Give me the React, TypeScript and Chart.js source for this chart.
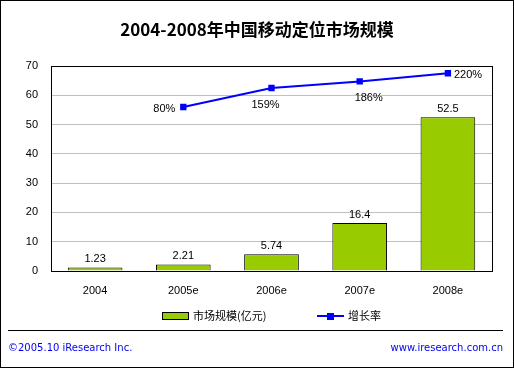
import React, { useEffect, useRef } from "react";
import { Chart, registerables } from "chart.js";

Chart.register(...registerables);

const title = "2004-2008年中国移动定位市场规模";
const categories = ["2004", "2005e", "2006e", "2007e", "2008e"];
const marketSize = [1.23, 2.21, 5.74, 16.4, 52.5];
const marketLabels = ["1.23", "2.21", "5.74", "16.4", "52.5"];
const growthRate: (number | null)[] = [null, 80, 159, 186, 220];
const growthLabels = ["", "80%", "159%", "186%", "220%"];
const seriesNames = ["市场规模(亿元)", "增长率"];
const footerLeft = "©2005.10 iResearch Inc.";
const footerRight = "www.iresearch.com.cn";

const FONT = "'Liberation Sans', 'Noto Sans CJK SC', sans-serif";
const FOOT = "'DejaVu Sans', 'Liberation Sans', sans-serif";
const CJK = "'Noto Sans CJK SC', 'Liberation Sans', sans-serif";
const GREEN = "#99cc00";
const BLUE = "#0000ff";

// placement of growth labels relative to point: [dx, dy, align]
const growthPlacement: [number, number, CanvasTextAlign][] = [
  [0, 0, "center"],
  [-8, 2, "right"],
  [-6, 17, "center"],
  [9, 17, "center"],
  [6, 2, "left"],
];

const decorPlugin = {
  id: "decor",
  afterDraw(chart: any) {
    const ctx = chart.ctx as CanvasRenderingContext2D;
    const ca = chart.chartArea;
    ctx.save();
    // outer border
    ctx.strokeStyle = "#000";
    ctx.lineWidth = 1;
    ctx.strokeRect(0.5, 0.5, 513, 367);
    // plot border
    ctx.strokeRect(Math.round(ca.left) + 0.5, Math.round(ca.top) + 0.5, Math.round(ca.right - ca.left), Math.round(ca.bottom - ca.top));
    // title
    ctx.fillStyle = "#000";
    ctx.font = `bold 17px ${CJK}`;
    ctx.textAlign = "center";
    ctx.textBaseline = "middle";
    ctx.fillText(title, 257, 30);

    // bar labels
    ctx.font = `11px ${FONT}`;
    ctx.textBaseline = "bottom";
    const barMeta = chart.getDatasetMeta(0);
    barMeta.data.forEach((el: any, i: number) => {
      ctx.textAlign = "center";
      ctx.fillText(marketLabels[i], el.x, el.y - 3);
    });
    // line labels
    const lineMeta = chart.getDatasetMeta(1);
    ctx.textBaseline = "middle";
    lineMeta.data.forEach((el: any, i: number) => {
      if (growthRate[i] == null) return;
      const [dx, dy, al] = growthPlacement[i];
      ctx.textAlign = al;
      ctx.fillText(growthLabels[i], el.x + dx, el.y + dy);
    });

    // legend
    const ly = 316;
    ctx.fillStyle = GREEN;
    ctx.fillRect(162, 312, 27, 7);
    ctx.strokeStyle = "#000";
    ctx.strokeRect(162.5, 312.5, 26, 7);
    ctx.fillStyle = "#000";
    ctx.font = `11px ${CJK}`;
    ctx.textAlign = "left";
    ctx.fillText(seriesNames[0], 193, ly);
    ctx.strokeStyle = BLUE;
    ctx.lineWidth = 2;
    ctx.beginPath();
    ctx.moveTo(317, ly);
    ctx.lineTo(344, ly);
    ctx.stroke();
    ctx.fillStyle = BLUE;
    ctx.fillRect(327, ly - 3, 7, 7);
    ctx.fillStyle = "#000";
    ctx.fillText(seriesNames[1], 348, ly);

    // separator
    ctx.strokeStyle = "#000";
    ctx.lineWidth = 1;
    ctx.beginPath();
    ctx.moveTo(8, 330.5);
    ctx.lineTo(503, 330.5);
    ctx.stroke();

    // footer
    ctx.fillStyle = "#0000ee";
    ctx.font = `10px ${FOOT}`;
    ctx.textAlign = "left";
    ctx.fillText(footerLeft, 8, 348);
    ctx.textAlign = "right";
    ctx.fillText(footerRight, 503, 348);
    ctx.restore();
  },
};

export default function App() {
  const ref = useRef<HTMLCanvasElement>(null);
  useEffect(() => {
    if (!ref.current) return;
    const chart = new Chart(ref.current, {
      type: "bar",
      data: {
        labels: categories,
        datasets: [
          {
            type: "bar",
            label: seriesNames[0],
            data: marketSize,
            backgroundColor: GREEN,
            borderColor: "#000",
            borderWidth: 1,
            categoryPercentage: 1,
            barPercentage: 0.62,
            yAxisID: "y",
            order: 1,
          },
          {
            type: "line",
            label: seriesNames[1],
            data: growthRate,
            borderColor: BLUE,
            backgroundColor: BLUE,
            borderWidth: 2,
            pointStyle: "rect",
            pointRadius: 4.5,
            pointBorderWidth: 0,
            yAxisID: "y1",
            order: 0,
          } as any,
        ],
      },
      options: {
        responsive: false,
        animation: false,
        devicePixelRatio: 1,
        layout: { padding: { top: 66, left: 0, right: 22, bottom: 72 } },
        plugins: { legend: { display: false }, tooltip: { enabled: false }, title: { display: false } },
        scales: {
          x: {
            grid: { display: false, drawTicks: false },
            border: { display: false },
            ticks: { color: "#000", font: { family: FONT, size: 11 }, padding: 13 },
            afterFit: (s: any) => { s.height = 25; },
          },
          y: {
            min: 0,
            max: 70,
            ticks: { stepSize: 10, color: "#000", font: { family: FONT, size: 11 }, padding: 13 },
            grid: { color: "#c0c0c0", drawTicks: false },
            border: { display: false },
            afterFit: (s: any) => { s.width = 51; },
          },
          y1: {
            display: false,
            min: -600,
            max: 250,
          },
        },
      },
      plugins: [decorPlugin],
    });
    return () => chart.destroy();
  }, []);
  return (
    <div style={{ position: "absolute", left: 0, top: 0, width: 514, height: 368, background: "#fff" }}>
      <canvas ref={ref} width={514} height={368} style={{ display: "block", width: 514, height: 368 }} />
    </div>
  );
}
